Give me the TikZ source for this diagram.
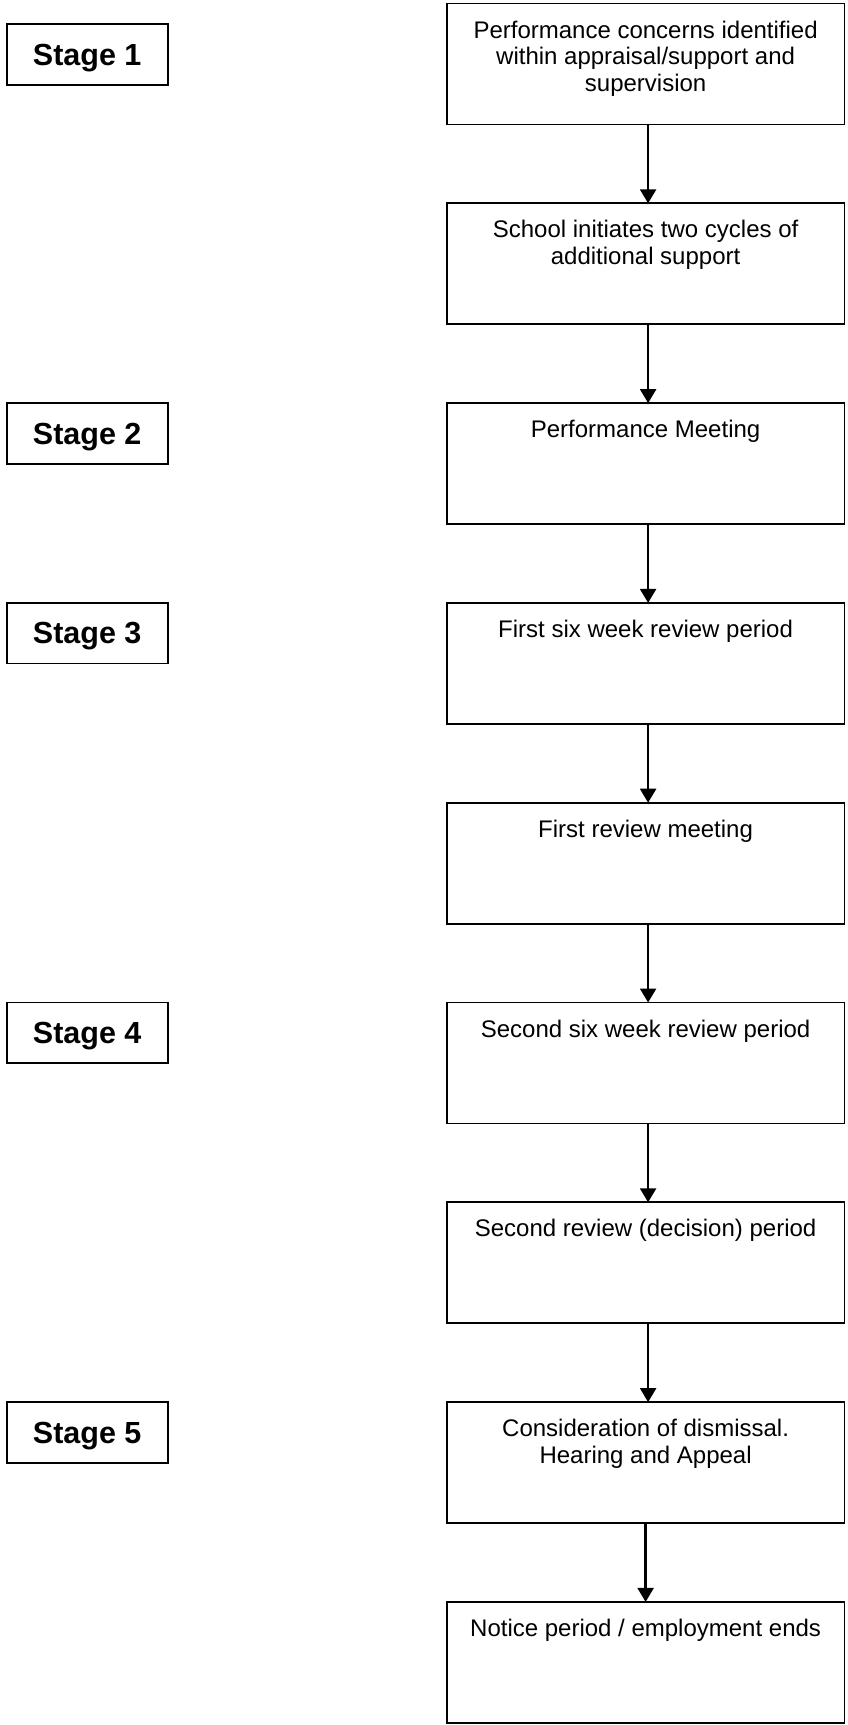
\documentclass[tikz,border=0pt]{standalone}
\usepackage{fontspec}
\setmainfont{Liberation Sans}
\usetikzlibrary{arrows.meta}
\begin{document}
\begin{tikzpicture}[x=1bp,y=-1bp,
  flowbox/.style={draw, line width=1.7bp, minimum width=397.8bp, minimum height=121bp, inner sep=0pt, outer sep=0pt, anchor=north west},
  stagebox/.style={draw, line width=1.7bp, minimum width=161bp, minimum height=60.6bp, inner sep=0pt, outer sep=0pt, anchor=north west, text depth=0pt, font=\fontsize{30.5bp}{34bp}\selectfont\bfseries},
  flowtext/.style={anchor=north, inner sep=0pt, align=center, font=\fontsize{24bp}{26.6bp}\selectfont},
  flowarrow/.style={line width=2.4bp, -{Triangle[length=14bp,width=16bp]}}]
\useasboundingbox (0,0) rectangle (848,1725);

% flow boxes
\node[flowbox] (b1) at (446.7,3.5) {};
\node[flowbox] (b2) at (446.7,203.3) {};
\node[flowbox] (b3) at (446.7,403.1) {};
\node[flowbox] (b4) at (446.7,602.9) {};
\node[flowbox] (b5) at (446.7,802.7) {};
\node[flowbox] (b6) at (446.7,1002.5) {};
\node[flowbox] (b7) at (446.7,1202.3) {};
\node[flowbox] (b8) at (446.7,1402.1) {};
\node[flowbox] (b9) at (446.7,1601.9) {};

% texts
\node[flowtext] (t1) at ([yshift=-17bp]b1.north) {Performance concerns identified\\within appraisal/support and\\supervision};
\node[flowtext] (t2) at ([yshift=-17bp]b2.north) {School initiates two cycles of\\additional support};
\node[flowtext] (t3) at ([yshift=-17bp]b3.north) {Performance Meeting};
\node[flowtext] (t4) at ([yshift=-17bp]b4.north) {First six week review period};
\node[flowtext] (t5) at ([yshift=-17bp]b5.north) {First review meeting};
\node[flowtext] (t6) at ([yshift=-17bp]b6.north) {Second six week review period};
\node[flowtext] (t7) at ([yshift=-17bp]b7.north) {Second review (decision) period};
\node[flowtext] (t8) at ([yshift=-17bp]b8.north) {Consideration of dismissal.\\Hearing and Appeal};
\node[flowtext] (t9) at ([yshift=-17bp]b9.north) {Notice period / employment ends};

% stage boxes
\node[stagebox] (s1) at (6.7,24.3) {Stage 1};
\node[stagebox] (s2) at (6.7,403.1) {Stage 2};
\node[stagebox] (s3) at (6.7,602.9) {Stage 3};
\node[stagebox] (s4) at (6.7,1002.5) {Stage 4};
\node[stagebox] (s5) at (6.7,1402.1) {Stage 5};

% arrows
\draw[flowarrow] ([xshift=2.5bp]b1.south) -- ([xshift=2.5bp]b2.north);
\draw[flowarrow] ([xshift=2.5bp]b2.south) -- ([xshift=2.5bp]b3.north);
\draw[flowarrow] ([xshift=2.5bp]b3.south) -- ([xshift=2.5bp]b4.north);
\draw[flowarrow] ([xshift=2.5bp]b4.south) -- ([xshift=2.5bp]b5.north);
\draw[flowarrow] ([xshift=2.5bp]b5.south) -- ([xshift=2.5bp]b6.north);
\draw[flowarrow] ([xshift=2.5bp]b6.south) -- ([xshift=2.5bp]b7.north);
\draw[flowarrow] ([xshift=2.5bp]b7.south) -- ([xshift=2.5bp]b8.north);
\draw[flowarrow] (b8.south) -- (b9.north);
\end{tikzpicture}
\end{document}
